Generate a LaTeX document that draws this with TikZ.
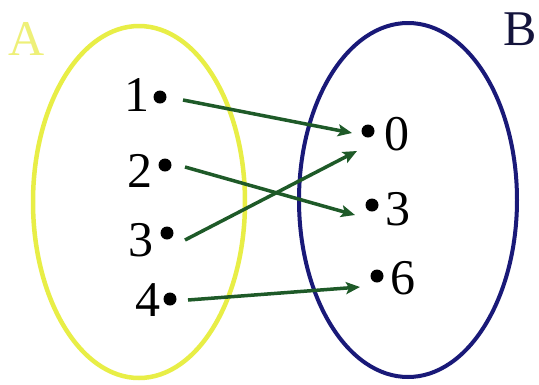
\documentclass[tikz,border=0pt]{standalone}
\usepackage{fontspec}
\setmainfont{Liberation Serif}
\usetikzlibrary{arrows.meta}
\definecolor{setA}{RGB}{232,238,70}
\definecolor{labA}{RGB}{238,240,120}
\definecolor{setB}{RGB}{25,25,120}
\definecolor{labB}{RGB}{20,20,60}
\definecolor{arr}{RGB}{30,90,40}
\tikzset{
  elem/.style={inner sep=0pt, font=\fontsize{50}{50}\selectfont},
  pt/.style={circle, fill=black, inner sep=0pt, minimum size=13pt},
  maparrow/.style={draw=arr, line width=3.5pt, -{Stealth[length=14pt,width=12pt,inset=3pt]}},
}
\begin{document}
\begin{tikzpicture}[x=1pt,y=-1pt]
\useasboundingbox (0,0) rectangle (539,384);
\fill[white] (0,0) rectangle (539,384);
% sets
\draw[setA, line width=4.5pt] (139,202) ellipse [x radius=106, y radius=176];
\draw[setB, line width=4pt] (408,200) ellipse [x radius=109, y radius=177];
\node[elem, text=labA] (lA) at (27,39) {A};
\node[elem, text=labB] (lB) at (520,29) {B};
% domain
\node[elem] (t1) at (137,95) {1};
\node[elem] (t2) at (140,171) {2};
\node[elem] (t3) at (141,240) {3};
\node[elem] (t4) at (148,300) {4};
\node[pt] (d1) at (160,97) {};
\node[pt] (d2) at (165,165) {};
\node[pt] (d3) at (167,233) {};
\node[pt] (d4) at (170,299) {};
% codomain
\node[pt] (e0) at (368,131) {};
\node[pt] (e3) at (372,205) {};
\node[pt] (e6) at (377,276) {};
\node[elem] (u0) at (397,134) {0};
\node[elem] (u3) at (398,209) {3};
\node[elem] (u6) at (403,278) {6};
% arrows
\draw[maparrow] ([shift={(23,3)}]d1.center) -- ([shift={(-16,2)}]e0.center);
\draw[maparrow] ([shift={(20,2)}]d2.center) -- ([shift={(-17,10)}]e3.center);
\draw[maparrow] ([shift={(18,7)}]d3.center) -- ([shift={(-11,20)}]e0.center);
\draw[maparrow] ([shift={(18,1)}]d4.center) -- ([shift={(-17,11)}]e6.center);
\end{tikzpicture}
\end{document}
